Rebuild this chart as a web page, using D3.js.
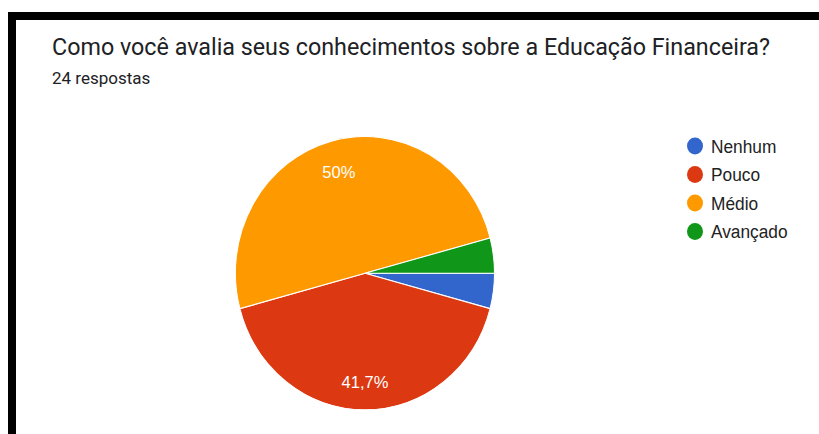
<!DOCTYPE html>
<html><head><meta charset="utf-8">
<script src="https://cdn.jsdelivr.net/npm/d3@7/dist/d3.min.js"></script>
<style>html,body{margin:0;padding:0;background:#fff;overflow:hidden}</style>
</head><body>
<svg id="c" width="819" height="434"></svg>
<script>
const titleText = "Como você avalia seus conhecimentos sobre a Educação Financeira?";
const subtitleText = "24 respostas";
const categories = ["Nenhum", "Pouco", "Médio", "Avançado"];
const counts = [1, 10, 12, 1];
const colors = ["#3366cc", "#dc3912", "#ff9900", "#109618"];

const svg = d3.select("#c");
// black frame
svg.append("rect").attr("x", 8).attr("y", 12).attr("width", 830).attr("height", 8).attr("fill", "#000");
svg.append("rect").attr("x", 8).attr("y", 12).attr("width", 8).attr("height", 430).attr("fill", "#000");

svg.append("text").attr("x", 52).attr("y", 55)
  .attr("font-family", "Roboto").attr("font-size", 23.3).attr("fill", "#202124")
  .text(titleText);
svg.append("text").attr("x", 52).attr("y", 84)
  .attr("font-family", "Roboto").attr("font-size", 17).attr("fill", "#202124")
  .text(subtitleText);

const total = d3.sum(counts);
const data = categories.map((c, i) => ({ cat: c, v: counts[i], color: colors[i] }));
const pie = d3.pie().value(d => d.v).sort(null)
  .startAngle(Math.PI / 2).endAngle(Math.PI / 2 + 2 * Math.PI);
const r = 129.5;
const arc = d3.arc().innerRadius(0).outerRadius(r);
const labelArc = d3.arc().innerRadius(r * 0.78).outerRadius(r * 0.78);
const g = svg.append("g").attr("transform", "translate(365,273.3) scale(1,1.054)");
const arcs = pie(data);
g.selectAll("path").data(arcs).join("path")
  .attr("d", arc).attr("fill", d => d.data.color)
  .attr("stroke", "#fff").attr("stroke-width", 1);
const fmt = v => {
  const p = Math.round(v / total * 1000) / 10;
  return String(p).replace(".", ",") + "%";
};
g.selectAll("text.lbl").data(arcs.filter(d => d.data.v / total > 0.05)).join("text")
  .attr("class", "lbl")
  .attr("transform", d => `translate(${labelArc.centroid(d)})`)
  .attr("text-anchor", "middle").attr("dy", "0.45em")
  .attr("font-family", "Liberation Sans, Arial").attr("font-size", 16.5).attr("fill", "#fff")
  .text(d => fmt(d.data.v));

const lg = svg.append("g").attr("transform", "translate(695,146)");
const items = lg.selectAll("g").data(data).join("g")
  .attr("transform", (d, i) => `translate(0,${i * 28.5}) scale(1,1.054)`);
items.append("circle").attr("r", 8).attr("fill", d => d.color);
items.append("text").attr("x", 16).attr("dy", "0.36em")
  .attr("font-family", "Liberation Sans, Arial").attr("font-size", 17.3).attr("fill", "#222")
  .text(d => d.cat);
</script>
</body></html>
